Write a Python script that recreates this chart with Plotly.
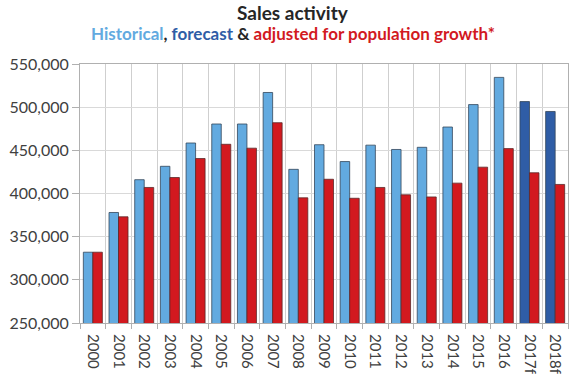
import plotly.graph_objects as go

years = ["2000", "2001", "2002", "2003", "2004", "2005", "2006", "2007", "2008", "2009",
         "2010", "2011", "2012", "2013", "2014", "2015", "2016", "2017f", "2018f"]
historical = [332000, 378000, 416000, 431500, 458500, 480500, 480500, 517000, 428000, 456500,
              437000, 456000, 451000, 453500, 477000, 503000, 534500, None, None]
forecast = [None] * 17 + [506500, 495000]
adjusted = [332000, 373000, 407000, 418500, 440500, 457000, 452500, 482000, 395000, 416500,
            394500, 407000, 398500, 396000, 412000, 430500, 452000, 424000, 410500]
y_ticks = [250000, 300000, 350000, 400000, 450000, 500000, 550000]

LIGHT = "#62AAE0"
DARK = "#2F5DA6"
RED = "#D2191F"

blue_vals = [h if h is not None else f for h, f in zip(historical, forecast)]
blue_cols = [LIGHT if h is not None else DARK for h in historical]

fig = go.Figure()
fig.add_bar(x=years, y=blue_vals, marker=dict(color=blue_cols, line=dict(color="#34465a", width=0.8)),
            name="Historical / forecast")
fig.add_bar(x=years, y=adjusted, marker=dict(color=RED, line=dict(color="#5a2a2a", width=0.8)),
            name="Adjusted")

font = "Lato"
fig.update_layout(
    width=579, height=381,
    margin=dict(l=80, r=11, t=64, b=58),
    paper_bgcolor="white", plot_bgcolor="white",
    barmode="group", bargap=0.26, bargroupgap=0,
    showlegend=False,
    font=dict(family=font, size=15, color="#404040"),
    xaxis=dict(
        type="category", tickangle=90, tickson="boundaries",
        showgrid=True, gridcolor="#cfcfcf", gridwidth=1,
        ticks="outside", ticklen=5, tickcolor="#b0b0b0",
        showline=True, linecolor="#b0b0b0", mirror=True,
        ticklabelstandoff=7, automargin=False,
        tickfont=dict(family=font, size=15, color="#404040"),
    ),
    yaxis=dict(
        range=[250000, 550000], tickvals=y_ticks,
        ticktext=[f"{v:,}" for v in y_ticks],
        showgrid=True, gridcolor="#d9d9d9", gridwidth=1,
        showline=True, linecolor="#b0b0b0", mirror=True,
        ticks="outside", ticklen=7, tickcolor="#b0b0b0",
        automargin=False,
        tickfont=dict(family=font, size=16, color="#404040"),
        zeroline=False,
    ),
    annotations=[
        dict(text="<b>Sales activity</b>", xref="paper", yref="paper",
             x=0.4355, y=1.20, xanchor="center", yanchor="middle", showarrow=False,
             font=dict(family=font, size=19, color="#262626")),
        dict(text=(f"<b><span style='color:{LIGHT}'>Historical</span>, "
                   f"<span style='color:{DARK}'>forecast</span> &amp; "
                   f"<span style='color:{RED}'>adjusted for population growth*</span></b>"),
             xref="paper", yref="paper",
             x=0.4355, y=1.118, xanchor="center", yanchor="middle", showarrow=False,
             font=dict(family=font, size=17, color="#262626")),
    ],
)

fig.write_html("out.html", config={"displayModeBar": False},
               post_script="document.body.style.margin='0';")
